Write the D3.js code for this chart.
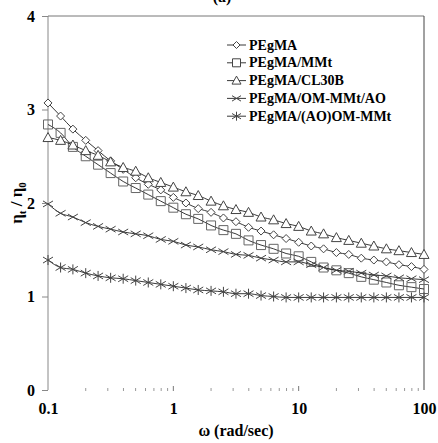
<!DOCTYPE html>
<html>
<head>
<meta charset="UTF-8" />
<script src="https://d3js.org/d3.v7.min.js"></script>
<style>
  body { margin: 0; background: #fff; }
  svg { display: block; font-family: "Liberation Serif", "Times New Roman", serif; }
</style>
</head>
<body>
<div id="chart"></div>
<script>
const width = 438;
const height = 443;
const marginTop = 16;
const marginRight = 14;
const marginBottom = 53;
const marginLeft = 48;

// frequency (rad/sec), 10 points per decade
const omega = [0.1, 0.126, 0.158, 0.2, 0.251, 0.316, 0.398, 0.501, 0.631, 0.794,
  1, 1.26, 1.58, 2, 2.51, 3.16, 3.98, 5.01, 6.31, 7.94,
  10, 12.6, 15.8, 20, 25.1, 31.6, 39.8, 50.1, 63.1, 79.4, 100];

const pegma = [3.07, 2.93, 2.79, 2.67, 2.56, 2.45, 2.36, 2.27, 2.20, 2.14,
  2.06, 2.00, 1.94, 1.90, 1.84, 1.80, 1.74, 1.70, 1.66, 1.62,
  1.58, 1.54, 1.51, 1.47, 1.45, 1.41, 1.39, 1.37, 1.34, 1.32, 1.29];
const pegmaMMt = [2.84, 2.75, 2.60, 2.50, 2.41, 2.32, 2.23, 2.16, 2.09, 2.02,
  1.95, 1.88, 1.83, 1.76, 1.71, 1.67, 1.60, 1.55, 1.51, 1.46,
  1.43, 1.37, 1.31, 1.28, 1.25, 1.21, 1.18, 1.15, 1.12, 1.10, 1.08];
const pegmaCL30B = [2.70, 2.67, 2.62, 2.56, 2.51, 2.44, 2.38, 2.34, 2.27, 2.22,
  2.17, 2.12, 2.08, 2.02, 1.97, 1.93, 1.90, 1.85, 1.82, 1.78,
  1.75, 1.70, 1.67, 1.63, 1.60, 1.57, 1.54, 1.51, 1.49, 1.47, 1.45];
const pegmaOMAO = [1.99, 1.89, 1.85, 1.79, 1.75, 1.72, 1.69, 1.67, 1.65, 1.61,
  1.59, 1.55, 1.53, 1.50, 1.48, 1.45, 1.44, 1.41, 1.39, 1.37,
  1.37, 1.34, 1.31, 1.28, 1.27, 1.25, 1.23, 1.22, 1.20, 1.19, 1.18];
const pegmaAOOM = [1.39, 1.31, 1.29, 1.25, 1.22, 1.20, 1.19, 1.17, 1.15, 1.13,
  1.11, 1.09, 1.07, 1.06, 1.05, 1.03, 1.03, 1.01, 1.00, 0.99,
  0.99, 0.99, 0.99, 0.99, 0.99, 0.99, 0.99, 0.99, 0.99, 0.99, 0.99];

const seriesNames = ["PEgMA", "PEgMA/MMt", "PEgMA/CL30B", "PEgMA/OM-MMt/AO", "PEgMA/(AO)OM-MMt"];
const seriesValues = [pegma, pegmaMMt, pegmaCL30B, pegmaOMAO, pegmaAOOM];
const seriesSymbols = ["diamond", "square", "triangle", "cross", "star"];

const xTickValues = [0.1, 1, 10, 100];
const yTickValues = [0, 1, 2, 3, 4];

const x = d3.scaleLog().domain([0.1, 100]).range([marginLeft, width - marginRight]);
const y = d3.scaleLinear().domain([0, 4]).range([height - marginBottom, marginTop]);

const svg = d3.select("#chart").append("svg")
  .attr("width", width)
  .attr("height", height);

// title, cut at the top like the source figure
svg.append("text")
  .attr("x", 222).attr("y", 2)
  .attr("text-anchor", "middle")
  .attr("font-weight", "bold").attr("font-size", 16)
  .text("(a)");

// frame: left axis, top and right borders
svg.append("line")
  .attr("x1", marginLeft).attr("x2", marginLeft)
  .attr("y1", y(0)).attr("y2", y(4))
  .attr("stroke", "#888").attr("stroke-width", 1);
svg.append("line")
  .attr("x1", marginLeft).attr("x2", width - marginRight)
  .attr("y1", y(4)).attr("y2", y(4))
  .attr("stroke", "#777").attr("stroke-width", 1);
svg.append("line")
  .attr("x1", width - marginRight).attr("x2", width - marginRight)
  .attr("y1", y(4)).attr("y2", y(0))
  .attr("stroke", "#444").attr("stroke-width", 1);

// y ticks
const yAxis = svg.append("g").attr("transform", `translate(${marginLeft},0)`)
  .call(d3.axisLeft(y).tickValues(yTickValues).tickSize(6).tickPadding(7).tickFormat(d3.format("d")));
yAxis.select(".domain").remove();
yAxis.selectAll(".tick line").attr("stroke", "#888");
yAxis.selectAll(".tick text")
  .attr("font-family", "Liberation Serif").attr("font-weight", "bold").attr("font-size", 16).attr("fill", "#000");

// x minor ticks along the zero line
const minor = [];
[0.1, 1, 10].forEach(d => { for (let k = 2; k <= 9; k++) minor.push(+(d * k).toPrecision(2)); });
svg.append("g").selectAll("line").data(minor).join("line")
  .attr("x1", d => x(d)).attr("x2", d => x(d))
  .attr("y1", y(0) - 2).attr("y2", y(0) + 1)
  .attr("stroke", "#999").attr("stroke-width", 1);
svg.append("g").selectAll("line").data([1, 10]).join("line")
  .attr("x1", d => x(d)).attr("x2", d => x(d))
  .attr("y1", y(0) - 4).attr("y2", y(0) + 1)
  .attr("stroke", "#777").attr("stroke-width", 1);

// x tick labels
const xAxis = svg.append("g").attr("transform", `translate(0,${y(0)})`)
  .call(d3.axisBottom(x).tickValues(xTickValues).tickSize(0).tickPadding(13).tickFormat(d => String(d)));
xAxis.select(".domain").remove();
xAxis.selectAll(".tick text")
  .attr("font-family", "Liberation Serif").attr("font-weight", "bold").attr("font-size", 16).attr("fill", "#000");

// axis titles
svg.append("text")
  .attr("x", 236).attr("y", 436)
  .attr("text-anchor", "middle")
  .attr("font-weight", "bold").attr("font-size", 16)
  .text("ω (rad/sec)");

const yTitle = svg.append("text")
  .attr("transform", `translate(22,${y(2)}) rotate(-90)`)
  .attr("text-anchor", "middle")
  .attr("font-weight", "bold").attr("font-size", 17);
yTitle.append("tspan").text("η");
yTitle.append("tspan").attr("font-size", 11).attr("dy", 4).text("t");
yTitle.append("tspan").attr("dy", -4).text(" / η");
yTitle.append("tspan").attr("font-size", 11).attr("dy", 4).text("0");

// marker shapes
function symbolPath(type, s) {
  const h = s / 2;
  switch (type) {
    case "diamond": return `M0,${-h}L${h},0L0,${h}L${-h},0Z`;
    case "square": return `M${-h},${-h}H${h}V${h}H${-h}Z`;
    case "triangle": return `M0,${-h - 0.5}L${h + 0.5},${h - 0.5}L${-h - 0.5},${h - 0.5}Z`;
    case "cross": return `M${-h},${-h * 0.6}L${h},${h * 0.6}M${-h},${h * 0.6}L${h},${-h * 0.6}`;
    case "star": return `M${-h},${-h * 0.6}L${h},${h * 0.6}M${-h},${h * 0.6}L${h},${-h * 0.6}M0,${-h}V${h}`;
  }
}
const symbolSize = { diamond: 8, square: 9, triangle: 9, cross: 10, star: 10 };

const line = d3.line()
  .x((d, i) => x(omega[i]))
  .y(d => y(d))
  .curve(d3.curveMonotoneX);

seriesValues.forEach((vals, si) => {
  const g = svg.append("g");
  g.append("path")
    .attr("d", line(vals))
    .attr("fill", "none")
    .attr("stroke", "#222").attr("stroke-width", 0.9);
  const type = seriesSymbols[si];
  g.selectAll("path.mk").data(vals).join("path")
    .attr("class", "mk")
    .attr("transform", (d, i) => `translate(${x(omega[i])},${y(d)})`)
    .attr("d", symbolPath(type, symbolSize[type]))
    .attr("fill", (type === "cross" || type === "star") ? "none" : "#fff")
    .attr("fill-opacity", type === "square" ? 0 : 1)
    .attr("stroke", type === "square" ? "#666" : "#444")
    .attr("stroke-width", 1);
});

// legend
const legend = svg.append("g");
seriesNames.forEach((name, i) => {
  const ly = 45 + i * 17.8;
  const type = seriesSymbols[i];
  legend.append("line")
    .attr("x1", 227).attr("x2", 246).attr("y1", ly).attr("y2", ly)
    .attr("stroke", "#222").attr("stroke-width", 0.9);
  legend.append("path")
    .attr("transform", `translate(236.5,${ly})`)
    .attr("d", symbolPath(type, symbolSize[type] - 1))
    .attr("fill", (type === "cross" || type === "star") ? "none" : "#fff")
    .attr("stroke", "#444").attr("stroke-width", 1);
  legend.append("text")
    .attr("x", 249).attr("y", ly + 4.5)
    .attr("font-weight", "bold").attr("font-size", 14)
    .text(name);
});
</script>
</body>
</html>
